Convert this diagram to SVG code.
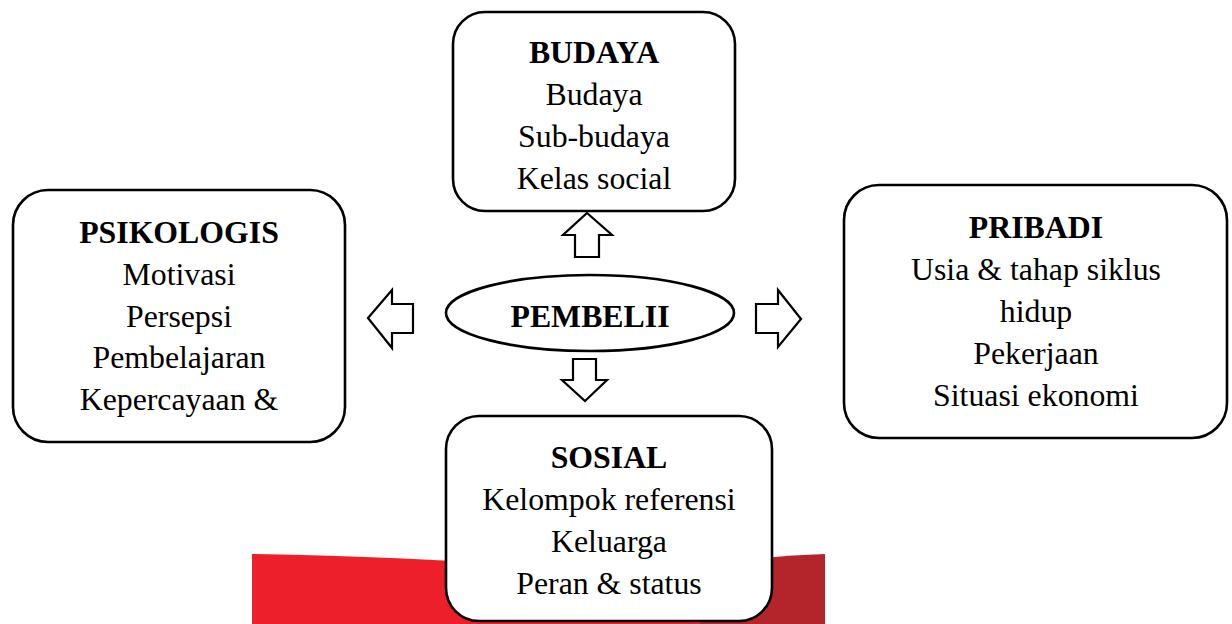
<svg xmlns="http://www.w3.org/2000/svg" width="1232" height="624" viewBox="0 0 1232 624">
<style>
.box{fill:#fff;stroke:#000;stroke-width:2.6}
.arr{fill:#fff;stroke:#000;stroke-width:2.2;stroke-linejoin:miter}
text{font-family:'Liberation Serif','Times New Roman',Times,serif;font-size:31.8px;fill:#000;text-anchor:middle}
.h{font-weight:bold}
</style>
<rect width="1232" height="624" fill="#fff"/>
<g id="background">
<path d="M252,554 Q420,557 520,566 L700,566 L700,624 L252,624 Z" fill="#ED1F2A"/>
<path d="M700,566 Q760,556 825,554 L825,624 L700,624 Z" fill="#B3252B"/>
</g>
<g id="connectors">
<polygon class="arr" points="587,213 612,235 599,235 599,257 575,257 575,235 563,235"/>
<polygon class="arr" points="585,401 607,380 596,380 596,359 573,359 573,380 562,380"/>
<polygon class="arr" points="368,318 392,290 392,304 413,304 413,333 392,333 392,348"/>
<polygon class="arr" points="801,319 778,290 778,304 756,304 756,333 778,333 778,347"/>
</g>
<g id="pembeli">
<ellipse class="box" cx="590" cy="313" rx="144" ry="38"/>
<text class="h" x="590" y="327">PEMBELII</text>
</g>
<g id="budaya">
<rect class="box" x="453" y="12" width="282" height="199" rx="32"/>
<text class="h" x="594" y="63">BUDAYA</text>
<text x="594" y="105">Budaya</text>
<text x="594" y="147">Sub-budaya</text>
<text x="594" y="189">Kelas social</text>
</g>
<g id="psikologis">
<rect class="box" x="13" y="190" width="332" height="252" rx="35"/>
<text class="h" x="179" y="243">PSIKOLOGIS</text>
<text x="179" y="285">Motivasi</text>
<text x="179" y="327">Persepsi</text>
<text x="179" y="368">Pembelajaran</text>
<text x="179" y="410">Kepercayaan &amp;</text>
</g>
<g id="pribadi">
<rect class="box" x="844" y="185" width="383" height="253" rx="35"/>
<text class="h" x="1036" y="238">PRIBADI</text>
<text x="1036" y="280">Usia &amp; tahap siklus</text>
<text x="1036" y="322">hidup</text>
<text x="1036" y="364">Pekerjaan</text>
<text x="1036" y="406">Situasi ekonomi</text>
</g>
<g id="sosial">
<rect class="box" x="446" y="416" width="326" height="205" rx="33"/>
<text class="h" x="609" y="468">SOSIAL</text>
<text x="609" y="510">Kelompok referensi</text>
<text x="609" y="552">Keluarga</text>
<text x="609" y="594">Peran &amp; status</text>
</g>
</svg>
